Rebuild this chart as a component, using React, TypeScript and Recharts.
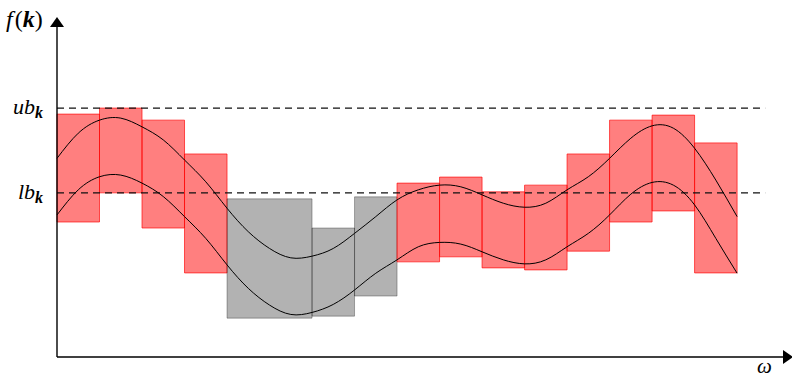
import React from 'react';
import { LineChart, Line, XAxis, YAxis, ReferenceArea, ReferenceLine } from 'recharts';

// sample positions along omega (one unit = one box width)
const omega = [0, 0.5, 1, 1.5, 2, 2.5, 3, 3.5, 4, 4.5, 5, 5.5, 6, 6.5, 7, 7.5, 8, 8.5, 9, 9.5, 10, 10.5, 11, 11.5, 12, 12.5, 13, 13.5, 14, 14.5, 15, 15.5, 16];
const upperCurve = [5.93, 6.68, 7.07, 7.13, 6.87, 6.48, 5.88, 5.23, 4.44, 3.74, 3.24, 2.96, 3.01, 3.24, 3.69, 4.19, 4.69, 4.99, 5.13, 5.08, 4.84, 4.59, 4.47, 4.59, 4.99, 5.38, 5.93, 6.53, 6.9, 6.83, 6.23, 5.28, 4.19];
const lowerCurve = [4.24, 4.99, 5.38, 5.43, 5.19, 4.79, 4.19, 3.54, 2.75, 2.05, 1.55, 1.27, 1.33, 1.57, 2.0, 2.5, 2.9, 3.29, 3.42, 3.37, 3.14, 2.9, 2.78, 2.9, 3.29, 3.69, 4.24, 4.86, 5.21, 5.13, 4.54, 3.54, 2.5];

// boxes: [start, end], [bottom, top], pruned or not
const boxStart = [0, 1, 2, 3, 4, 6, 7, 8, 9, 10, 11, 12, 13, 14, 15];
const boxEnd = [1, 2, 3, 4, 6, 7, 8, 9, 10, 11, 12, 13, 14, 15, 16];
const boxLow = [4.03, 4.9, 3.85, 2.51, 1.16, 1.22, 1.82, 2.84, 2.99, 2.66, 2.6, 3.16, 4.03, 4.36, 2.51];
const boxHigh = [7.25, 7.43, 7.07, 6.06, 4.72, 3.85, 4.78, 5.19, 5.37, 4.93, 5.13, 6.06, 7.07, 7.22, 6.39];
const boxPruned = [false, false, false, false, true, true, true, false, false, false, false, false, false, false, false];

const ub = 7.43;
const lb = 4.9;
const boundEnd = 16.66;

const data = omega.map((x, i) => ({ x, upper: upperCurve[i], lower: lowerCurve[i] }));

const serif = '"Liberation Serif", "DejaVu Serif", serif';

const BoundTick = (props: any) => {
  const { x, y, payload } = props;
  const name = payload.value === ub ? 'ub' : 'lb';
  return (
    <text x={x - 6} y={y + 6} textAnchor="end" fontFamily={serif} fontSize={22} fill="#000">
      <tspan fontStyle="italic">{name}</tspan>
      <tspan fontStyle="italic" fontWeight="bold" fontSize={16} dy={4}>k</tspan>
    </text>
  );
};

export default function App() {
  return (
    <div style={{ position: 'absolute', left: 0, top: 0, background: '#fff' }}>
      <LineChart width={792} height={377} data={data} margin={{ top: 27, right: 9, bottom: 0, left: 0 }}>
        <defs>
          <marker id="arrowHead" markerUnits="userSpaceOnUse" markerWidth={12} markerHeight={16} refX={0} refY={7} orient="auto-start-reverse">
            <path d="M0,0 L10,7 L0,14 z" fill="#000" />
          </marker>
        </defs>
        <XAxis
          type="number"
          dataKey="x"
          domain={[0, 17.08]}
          ticks={[]}
          tickLine={false}
          axisLine={{ stroke: '#000', strokeWidth: 1.4, markerEnd: 'url(#arrowHead)' }}
          height={20}
        />
        <YAxis
          type="number"
          domain={[0, 9.85]}
          ticks={[lb, ub]}
          tick={<BoundTick />}
          tickLine={false}
          width={57}
          axisLine={{ stroke: '#000', strokeWidth: 1.4, markerStart: 'url(#arrowHead)' }}
        />
        <ReferenceLine segment={[{ x: 0, y: ub }, { x: boundEnd, y: ub }]} stroke="#111" strokeDasharray="7 5" strokeWidth={1.2} />
        <ReferenceLine segment={[{ x: 0, y: lb }, { x: boundEnd, y: lb }]} stroke="#111" strokeDasharray="7 5" strokeWidth={1.2} />
        <Line type="natural" dataKey="upper" stroke="#000" strokeWidth={1} dot={false} isAnimationActive={false} />
        <Line type="natural" dataKey="lower" stroke="#000" strokeWidth={1} dot={false} isAnimationActive={false} />
        {boxStart.map((s, i) => (
          <ReferenceArea
            key={i}
            x1={s}
            x2={boxEnd[i]}
            y1={boxLow[i]}
            y2={boxHigh[i]}
            ifOverflow="visible"
            fill={boxPruned[i] ? '#000' : '#ff0000'}
            fillOpacity={boxPruned[i] ? 0.3 : 0.5}
            stroke={boxPruned[i] ? '#000' : '#ff0000'}
            strokeOpacity={boxPruned[i] ? 0.3 : 0.65}
            strokeWidth={1}
          />
        ))}
        <text x={6} y={27} fontFamily={serif} fontSize={24} fill="#000">
          <tspan fontStyle="italic">f</tspan>
          <tspan dx={2}>(</tspan>
          <tspan fontStyle="italic" fontWeight="bold">k</tspan>
          <tspan>)</tspan>
        </text>
        <text x={757} y={373} fontFamily={serif} fontSize={21} fontStyle="italic" fill="#000">ω</text>
      </LineChart>
    </div>
  );
}
